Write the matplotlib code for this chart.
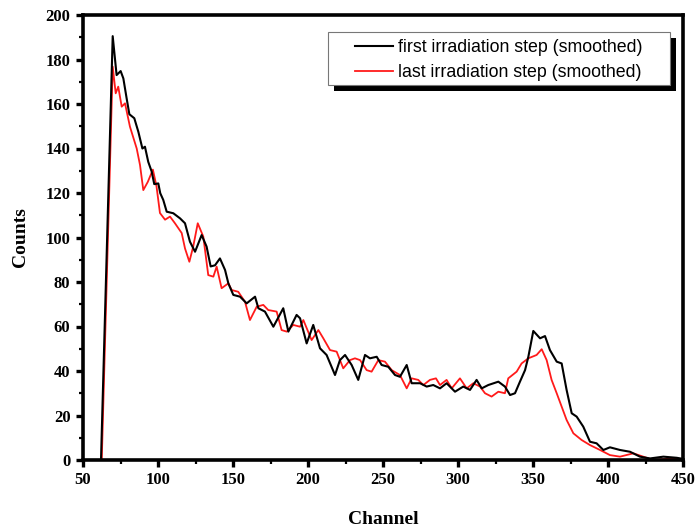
import matplotlib
matplotlib.use("Agg")
import matplotlib.pyplot as plt
from matplotlib.patches import Rectangle
from matplotlib.ticker import MultipleLocator

# Smoothed spectra (channel, counts)
first_channel = [50, 62, 69.8, 72.4, 75.1, 76.9, 79.1, 80.9, 84.2, 86.9,
                 89.6, 91.3, 93.5, 95.8, 97.5, 100.2, 101.5, 103.5, 105.8, 110.2,
                 114.7, 118, 121.3, 124.7, 129.1, 132.4, 135.1, 138, 141.3, 144.7,
                 146.9, 150.2, 154.7, 159.1, 164.7, 166.9, 171.3, 176.9, 183.5, 186.9,
                 192.4, 194.7, 199.1, 203.5, 208, 212.4, 218, 221.3, 224.7, 229.1,
                 233.5, 238, 241.3, 245.8, 249.1, 253.5, 258, 261.3, 265.8, 269.1,
                 274.7, 279.1, 283.5, 288, 292.4, 298, 303.5, 308, 312.4, 315.8,
                 320.2, 326.9, 331.3, 334.7, 338, 341.3, 344.7, 346.9, 350.2, 354.7,
                 358, 361.3, 365.8, 369.1, 372.4, 375.8, 379.1, 383.5, 388, 392.4,
                 396.9, 401.3, 408, 414.7, 421.3, 428, 436.9, 445.8, 450]
first_counts = [0, 0, 190.5, 173, 174.8, 171.5, 162.5, 155.4, 153.6, 147.5,
                140, 140.8, 134, 129.6, 124, 124.3, 119.9, 116.9, 111.6, 110.9,
                108.6, 106.4, 98.1, 93.6, 101.1, 95.9, 87, 87.5, 90.6, 85.4,
                79.4, 74.2, 73.4, 70.4, 73.4, 68.2, 66.7, 59.9, 68.2, 57.7,
                65.2, 63.7, 52.4, 60.7, 50.2, 47.2, 38.2, 44.9, 47.2, 42.7,
                36, 47.2, 45.7, 46.4, 42.7, 41.9, 38.2, 37.4, 42.7, 34.5,
                34.5, 33, 33.7, 32.2, 34.5, 30.7, 33, 31.5, 36, 32.2,
                33.7, 35.2, 33, 29.2, 30, 35.2, 40.4, 46.4, 58, 54.7,
                55.7, 49.4, 44.2, 43.4, 31.5, 21, 19.5, 15, 8.2, 7.5,
                4.5, 5.7, 4.5, 3.7, 1.5, 0.7, 1.5, 1, 0.5]

last_channel = [50, 62.5, 69.8, 71.8, 73.5, 75.8, 78, 81.3, 85.8, 88,
                90.2, 93.2, 96.6, 99, 101.3, 104.7, 108, 111.3, 115.8, 118,
                120.9, 123.5, 126.5, 130.2, 133.5, 136.9, 139.1, 142.4, 146.9, 149.1,
                153.5, 158, 161.3, 165.8, 170.2, 173.5, 179.1, 182.4, 185.8, 190.2,
                194.7, 196.9, 202.4, 206.9, 210.2, 214.7, 219.1, 223.5, 228, 231.3,
                234.7, 239.1, 242.4, 246.9, 251.3, 255.8, 261.3, 265.8, 269.1, 273.5,
                276.9, 281.3, 285.3, 288, 292.4, 295.8, 301.3, 305.8, 310.2, 314.7,
                318, 322.4, 326.9, 331.3, 333.5, 339.1, 342.4, 346.9, 352.4, 355.8,
                359.1, 362.4, 365.8, 369.1, 372.4, 376.9, 382.4, 388, 394.7, 401.3,
                408, 416.9, 423.5, 430.2, 439, 450]
last_counts = [0, 0, 176.8, 164.8, 167.8, 158.8, 160.3, 149.8, 140, 132.6,
               121.3, 125, 130.5, 123, 111, 108, 109.4, 106.4, 102, 95.1,
               89.1, 96, 106.4, 100.4, 83.1, 82.4, 86.9, 77.2, 79.4, 76.4,
               75.6, 71.1, 62.9, 68.9, 69.7, 67.4, 66.7, 58.4, 57.7, 60.7,
               59.9, 62.9, 53.9, 58.4, 54.7, 49.4, 48.7, 41.2, 44.9, 45.7,
               44.9, 40.4, 39.7, 44.9, 44.2, 40.4, 38.2, 32.2, 36.7, 36,
               33.7, 36, 36.7, 33.7, 36, 32.2, 36.7, 32.2, 34.5, 33,
               30, 28.5, 30.7, 30, 36.7, 39.7, 43.4, 45.7, 47.2, 49.8,
               44.9, 36, 30, 24, 18, 12, 9, 6.7, 4.5, 2.2,
               1.5, 3, 1.5, 0, 0.5, 0.5]

series_labels = ["first irradiation step (smoothed)", "last irradiation step (smoothed)"]
x_ticks = [50, 100, 150, 200, 250, 300, 350, 400, 450]
y_ticks = [0, 20, 40, 60, 80, 100, 120, 140, 160, 180, 200]

W, H = 699, 529
fig = plt.figure(figsize=(W / 100, H / 100), dpi=100)
ax = fig.add_axes([83 / W, 1 - 460 / H, 600 / W, 445 / H])

l1, = ax.plot(first_channel, first_counts, color="black", lw=1.5, zorder=3)
l2, = ax.plot(last_channel, last_counts, color="#ff1a1a", lw=1.3, zorder=2)

ax.set_xlim(50, 450)
ax.set_ylim(0, 200)
ax.set_xticks(x_ticks)
ax.set_yticks(y_ticks)
ax.xaxis.set_minor_locator(MultipleLocator(25))
ax.yaxis.set_minor_locator(MultipleLocator(10))

serif_bold = dict(family="Liberation Serif", weight="bold")
for lab in ax.get_xticklabels() + ax.get_yticklabels():
    lab.set_fontfamily("Liberation Serif")
    lab.set_fontweight("bold")
    lab.set_fontsize(12)

ax.tick_params(which="major", direction="out", length=5, width=2.4, pad=4)
ax.tick_params(which="minor", direction="out", length=3, width=1.6)
for s in ax.spines.values():
    s.set_linewidth(2.6)

ax.set_xlabel("Channel", fontsize=14, labelpad=16, **serif_bold)
ax.set_ylabel("Counts", fontsize=14, labelpad=12, **serif_bold)

# legend box with a solid drop shadow (figure pixels)
box_x0, box_y0, box_x1, box_y1 = 328, 32, 670, 85
off = 6
shadow = Rectangle(((box_x0 + off) / W, 1 - (box_y1 + off) / H),
                   (box_x1 - box_x0) / W, (box_y1 - box_y0) / H,
                   transform=fig.transFigure, facecolor="black",
                   edgecolor="none", zorder=4)
frame = Rectangle((box_x0 / W, 1 - box_y1 / H),
                  (box_x1 - box_x0) / W, (box_y1 - box_y0) / H,
                  transform=fig.transFigure, facecolor="white",
                  edgecolor="#777777", lw=0.8, zorder=5)
fig.add_artist(shadow)
fig.add_artist(frame)

leg = fig.legend([l1, l2], series_labels, loc="upper left",
                 bbox_to_anchor=(355 / W, 1 - 39 / H), bbox_transform=fig.transFigure,
                 borderaxespad=0, borderpad=0, frameon=False,
                 prop=dict(family="Liberation Sans", size=12.8),
                 handlelength=2.15, handletextpad=0.25, labelspacing=0.45)
leg.set_zorder(6)

fig.savefig("out.png", dpi=100)
